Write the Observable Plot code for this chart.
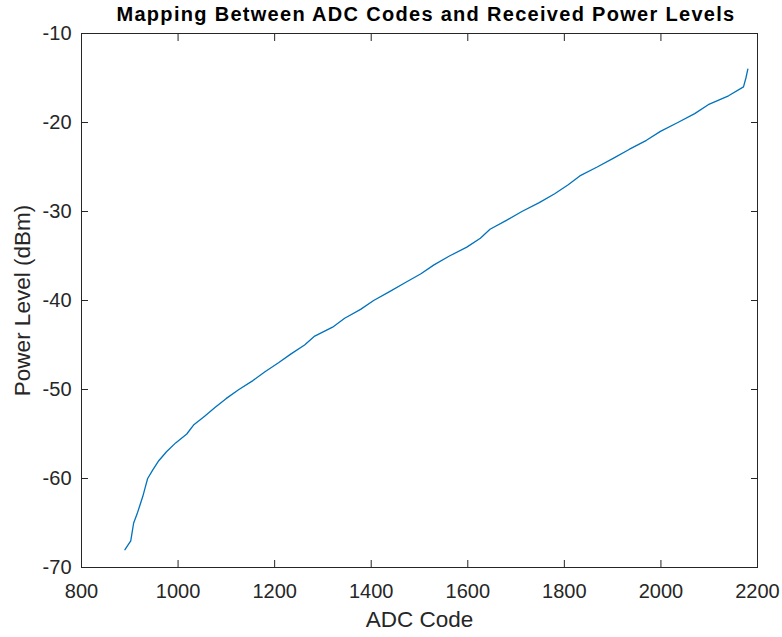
<!DOCTYPE html>
<html><head><meta charset="utf-8">
<script src="https://cdn.jsdelivr.net/npm/d3@7"></script>
<script src="https://cdn.jsdelivr.net/npm/@observablehq/plot@0.6"></script>
<style>
body{margin:0;background:#fff;}
#title{height:24px;padding-top:2px;line-height:24px;text-align:center;font-family:"Liberation Sans",Arial,sans-serif;font-weight:bold;font-size:20px;letter-spacing:1.3px;color:#000;padding-left:70px;white-space:nowrap;}
</style></head><body>
<div id="title">Mapping Between ADC Codes and Received Power Levels</div>
<div id="chart"></div>
<script>
const powerLevels = [-68,-67,-66,-65,-64,-63,-62,-61,-60,-59,-58,-57,-56,-55,-54,-53,-52,-51,-50,-49,-48,-47,-46,-45,-44,-43,-42,-41,-40,-39,-38,-37,-36,-35,-34,-33,-32,-31,-30,-29,-28,-27,-26,-25,-24,-23,-22,-21,-20,-19,-18,-17,-16,-15,-14];
const adcCodes = [890,902,905,908,915,921,927,932,937,948,960,976,995,1018,1032,1055,1077,1100,1126,1155,1180,1208,1234,1262,1283,1320,1345,1378,1405,1438,1470,1503,1530,1562,1598,1626,1646,1680,1712,1748,1780,1808,1832,1868,1902,1935,1970,1999,2035,2070,2098,2140,2171,2176,2180];
const xTicks = [800,1000,1200,1400,1600,1800,2000,2200];
const yTicks = [-70,-60,-50,-40,-30,-20,-10];
const xLabel = "ADC Code";
const yLabel = "Power Level (dBm)";

const data = adcCodes.map((a, i) => ({adc: a, power: powerLevels[i]}));
const ink = "#262626";
const chart = Plot.plot({
  width: 782, height: 611,
  marginTop: 7, marginBottom: 70, marginLeft: 81, marginRight: 25,
  style: {fontFamily: "'Liberation Sans', Arial, sans-serif", fontSize: "20px", color: ink, background: "#fff", overflow: "visible"},
  x: {domain: [800, 2200]},
  y: {domain: [-70, -10]},
  marks: [
    Plot.frame({stroke: ink, strokeWidth: 1}),
    Plot.axisX({anchor: "bottom", ticks: xTicks, tickSize: -7, tickPadding: 23, tickFormat: d => String(d), label: null, stroke: ink, fill: ink}),
    Plot.axisX({anchor: "top", ticks: xTicks, tickSize: -7, tickFormat: () => "", label: null, stroke: ink}),
    Plot.axisY({anchor: "left", ticks: yTicks, tickSize: -7, tickPadding: 17, tickFormat: d => String(d), label: null, stroke: ink, fill: ink}),
    Plot.axisY({anchor: "right", ticks: yTicks, tickSize: -7, tickFormat: () => "", label: null, stroke: ink}),
    Plot.line(data, {x: "adc", y: "power", stroke: "#0072BD", strokeWidth: 1.3}),
    Plot.text([xLabel], {frameAnchor: "bottom", dy: 59, fontSize: 22.5, fill: ink}),
    Plot.text([yLabel], {frameAnchor: "left", textAnchor: "middle", rotate: -90, dx: -59, fontSize: 22.5, fill: ink})
  ]
});
document.getElementById("chart").appendChild(chart);
</script>
</body></html>
